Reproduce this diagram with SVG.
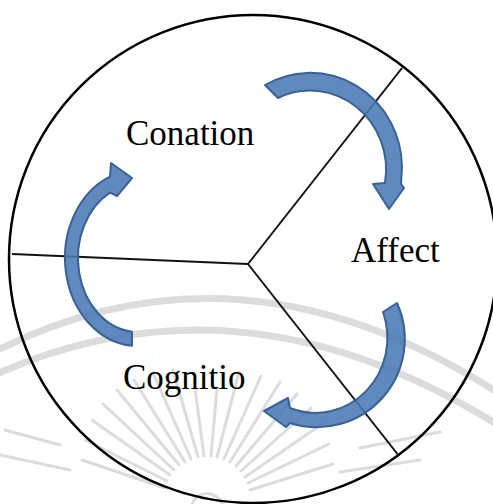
<svg xmlns="http://www.w3.org/2000/svg" width="493" height="504" viewBox="0 0 493 504">
<defs>
<style>
.wm{fill:none;stroke:#dcdcdc;stroke-linecap:round}
.band{stroke-width:7}
.ray{stroke-width:3}
.frame{fill:none;stroke:#000;stroke-width:2.5}
.div{fill:none;stroke:#111;stroke-width:2}
.lbl{font-family:"Liberation Serif","Times New Roman",serif;font-size:35px;fill:#000}
.arr{fill:#4a7ab4;fill-opacity:0.88;stroke:#3a6196;stroke-width:2;stroke-linejoin:round}
</style>
</defs>
<rect width="493" height="504" fill="#fff"/>
<g id="watermark">
<path class="wm band" d="M -10,354 Q 240,225 503,396"/>
<path class="wm band" d="M -10,377 Q 240,262 503,428"/>
<g id="rays" transform="translate(207,500)">
<line class="wm ray" x1="-42" y1="-12" x2="-125" y2="-40"/>
<line class="wm ray" x1="-40" y1="-19" x2="-122" y2="-60"/>
<line class="wm ray" x1="-37" y1="-25" x2="-115" y2="-80"/>
<line class="wm ray" x1="-33" y1="-30" x2="-104" y2="-96"/>
<line class="wm ray" x1="-28" y1="-35" x2="-90" y2="-110"/>
<line class="wm ray" x1="-22" y1="-38" x2="-73" y2="-120"/>
<line class="wm ray" x1="-16" y1="-41" x2="-54" y2="-127"/>
<line class="wm ray" x1="-9" y1="-43" x2="-34" y2="-130"/>
<line class="wm ray" x1="-3" y1="-44" x2="-12" y2="-112"/>
<line class="wm ray" x1="4" y1="-44" x2="10" y2="-112"/>
<line class="wm ray" x1="10" y1="-43" x2="32" y2="-128"/>
<line class="wm ray" x1="17" y1="-41" x2="54" y2="-124"/>
<line class="wm ray" x1="23" y1="-38" x2="73" y2="-118"/>
<line class="wm ray" x1="29" y1="-34" x2="90" y2="-106"/>
<line class="wm ray" x1="34" y1="-29" x2="104" y2="-92"/>
<line class="wm ray" x1="38" y1="-23" x2="115" y2="-76"/>
<line class="wm ray" x1="41" y1="-17" x2="122" y2="-56"/>
<line class="wm ray" x1="43" y1="-10" x2="126" y2="-36"/>
</g>
<line class="wm ray" x1="0" y1="455" x2="70" y2="470"/>
<line class="wm ray" x1="5" y1="430" x2="60" y2="445"/>
<line class="wm ray" x1="340" y1="472" x2="420" y2="460"/>
<line class="wm ray" x1="360" y1="448" x2="440" y2="432"/>
<path class="wm ray" d="M 192,504 A 16,16 0 0 1 222,504"/>
</g>
<g id="frame">
<circle class="frame" cx="253" cy="259" r="244"/>
</g>
<g id="connectors">
<line class="div" x1="248" y1="264" x2="402" y2="68"/>
<line class="div" x1="248" y1="264" x2="12" y2="254"/>
<line class="div" x1="248" y1="264" x2="399" y2="456"/>
</g>
<g id="node-conation">
<text class="lbl" x="126" y="145">Conation</text>
</g>
<g id="node-affect">
<text class="lbl" x="351" y="262">Affect</text>
</g>
<g id="node-cognitio">
<text class="lbl" x="123" y="389">Cognitio</text>
</g>
<g id="arrows">
<path id="arrow-conation-affect" class="arr" d="M 265,85 A 92,95 0 0 1 402,167 L 401,184 L 404,188 L 389,209 L 373,184 L 385,183 A 76,79 0 0 0 278,98 Z"/>
<path id="arrow-affect-cognitio" class="arr" d="M 397,303 A 88,88 0 0 1 290,423 L 286,427 L 264,411 L 288,398 L 290,408 A 72,75 0 0 0 383,312 Z"/>
<path id="arrow-cognitio-conation" class="arr" d="M 132,345.7 A 73,88 0 0 1 110,176.7 L 111,163 L 132,178 L 117,196 L 110,192.6 A 60,74 0 0 0 132,331.7 Z"/>
</g>
</svg>
